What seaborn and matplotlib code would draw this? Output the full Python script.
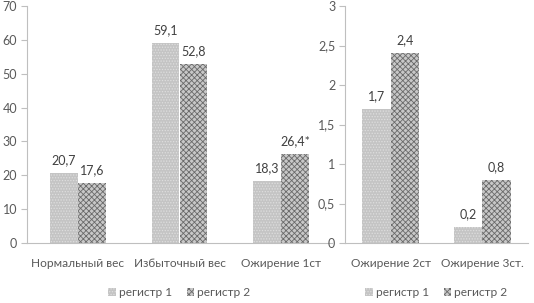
import matplotlib
matplotlib.use("Agg")
import matplotlib.pyplot as plt
import seaborn as sns
import pandas as pd
from matplotlib.patches import Patch
from matplotlib.ticker import FuncFormatter, FixedLocator

# ---- data ----
cats_left = ["Нормальный вес", "Избыточный вес", "Ожирение 1ст"]
reg1_left = [20.7, 59.1, 18.3]
reg2_left = [17.6, 52.8, 26.4]
lab1_left = ["20,7", "59,1", "18,3"]
lab2_left = ["17,6", "52,8", "26,4*"]

cats_right = ["Ожирение 2ст", "Ожирение 3ст."]
reg1_right = [1.7, 0.2]
reg2_right = [2.4, 0.8]
lab1_right = ["1,7", "0,2"]
lab2_right = ["2,4", "0,8"]

series = ["регистр 1", "регистр 2"]
yticks_left = [0, 10, 20, 30, 40, 50, 60, 70]
yticks_right = [0, 0.5, 1, 1.5, 2, 2.5, 3]

sns.set_style("white")
plt.rcParams["font.family"] = ["Lato", "DejaVu Sans"]
plt.rcParams["hatch.linewidth"] = 0.6

TXT = "#595959"
AXC = "#bfbfbf"

fig = plt.figure(figsize=(5.34, 3.03), dpi=100)
axL = fig.add_axes([27/534, 1-243/303, 305/534, 237/303])
axR = fig.add_axes([345/534, 1-243/303, 183/534, 237/303])

styles = [dict(fc="#c4c4c4", hatch="......", ec="#dedede"),
          dict(fc="#c8c8c8", hatch="xxxxxx", ec="#6a6a6a")]

def draw(ax, cats, v1, v2, l1, l2, yticks, width, fmt):
    df = pd.DataFrame({
        "cat": cats + cats,
        "val": v1 + v2,
        "reg": [series[0]] * len(cats) + [series[1]] * len(cats),
    })
    sns.barplot(data=df, x="cat", y="val", hue="reg", order=cats,
                hue_order=series, width=width, legend=False, ax=ax,
                linewidth=0)
    for cont, st, labs in zip(ax.containers, styles, [l1, l2]):
        for p in cont:
            p.set_facecolor(st["fc"])
            p.set_hatch(st["hatch"])
            p.set_edgecolor(st["ec"])
            p.set_linewidth(0)
        ax.bar_label(cont, labels=labs, padding=5, fontsize=9, color="#404040")
    n = len(cats)
    ax.set_xlim(-0.5, n - 0.5)
    ax.set_ylim(yticks[0], yticks[-1])
    ax.set_yticks(yticks)
    ax.yaxis.set_major_formatter(FuncFormatter(fmt))
    ax.xaxis.set_minor_locator(FixedLocator([i - 0.5 for i in range(n + 1)]))
    ax.tick_params(axis="x", which="major", length=0, pad=11, labelsize=8.6, labelcolor=TXT)
    ax.tick_params(axis="x", which="minor", length=4, color=AXC, width=0.8)
    ax.tick_params(axis="y", length=4, color=AXC, width=0.8, labelsize=9,
                   labelcolor=TXT, pad=3, left=True)
    ax.set_xlabel("")
    ax.set_ylabel("")
    for s in ["top", "right"]:
        ax.spines[s].set_visible(False)
    for s in ["left", "bottom"]:
        ax.spines[s].set_color(AXC)
        ax.spines[s].set_linewidth(0.8)
    handles = [Patch(facecolor=st["fc"], hatch=st["hatch"], edgecolor=st["ec"],
                     linewidth=0, label=s) for st, s in zip(styles, series)]
    ax.legend(handles=handles, loc="center", bbox_to_anchor=(0.5, -0.21),
              ncol=2, frameon=False, fontsize=8.6, handlelength=0.6,
              handleheight=0.6, handletextpad=0.3, columnspacing=1.2,
              labelcolor=TXT)

def fmt_comma(v, pos):
    s = f"{v:g}"
    return s.replace(".", ",")

draw(axL, cats_left, reg1_left, reg2_left, lab1_left, lab2_left, yticks_left, 0.55, fmt_comma)
draw(axR, cats_right, reg1_right, reg2_right, lab1_right, lab2_right, yticks_right, 0.62, fmt_comma)

fig.savefig("out.png", dpi=100, facecolor="white")
